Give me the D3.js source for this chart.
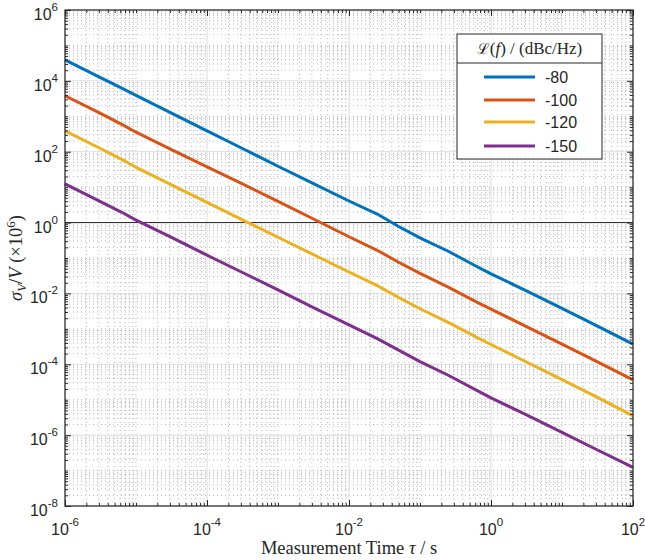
<!DOCTYPE html>
<html><head><meta charset="utf-8">
<script src="https://cdn.jsdelivr.net/npm/d3@7"></script>
<style>
html,body{margin:0;padding:0;background:#fff;}
svg{display:block;}
</style></head>
<body>
<svg id="chart" width="645" height="560"></svg>
<script>
// measurement time tau (s)
const tau = [1e-6, 3.16e-6, 6.3e-6, 1e-5, 3.16e-5, 1e-4, 3.16e-4, 1e-3, 3.16e-3, 1e-2, 2.5e-2, 5e-2, 1e-1, 2.5e-1, 6.3e-1, 1, 3.16, 10, 31.6, 100];
// sigma_V / V (x1e6) for each phase-noise level
const series80  = [3.9e4, 1.23e4, 6.2e3, 3.9e3, 1.23e3, 389, 123, 38.9, 12.6, 4.07, 1.74, 0.776, 0.37, 0.155, 0.0575, 0.0358, 0.0118, 3.8e-3, 1.2e-3, 3.72e-4];
const series100 = [3800, 1202, 589, 355, 115, 37.2, 12.3, 3.98, 1.26, 0.398, 0.165, 0.0759, 0.0368, 0.0151, 5.7e-3, 3.6e-3, 1.16e-3, 3.72e-4, 1.17e-4, 3.63e-5];
const series120 = [389, 123, 61, 36.3, 11.6, 3.72, 1.19, 0.385, 0.124, 0.0403, 0.0166, 7.67e-3, 3.7e-3, 1.53e-3, 5.75e-4, 3.62e-4, 1.16e-4, 3.67e-5, 1.16e-5, 3.5e-6];
const series150 = [12.3, 3.89, 1.95, 1.17, 0.38, 0.120, 0.0389, 0.0126, 3.98e-3, 1.29e-3, 5.3e-4, 2.51e-4, 1.19e-4, 4.9e-5, 1.84e-5, 1.13e-5, 3.72e-6, 1.2e-6, 3.8e-7, 1.23e-7];
const seriesNames = ["-80", "-100", "-120", "-150"];
const seriesColors = ["#0072BD", "#D95319", "#EDB120", "#7E2F8E"];
const xTickExps = [-6, -4, -2, 0, 2];
const yTickExps = [-8, -6, -4, -2, 0, 2, 4, 6];

const allSeries = [series80, series100, series120, series150];

const m = {left: 65, top: 10, right: 633, bottom: 506};
const svg = d3.select("#chart");

const x = d3.scaleLog().domain([1e-6, 1e2]).range([m.left, m.right]);
const y = d3.scaleLog().domain([1e-8, 1e6]).range([m.bottom, m.top]);

// minor tick values
const xMinor = [], yMinor = [];
for (let e = -6; e < 2; e++) for (let k = 1; k <= 9; k++) { const v = k * Math.pow(10, e); if (!(k === 1 && e % 2 === 0)) xMinor.push(v); }
for (let e = -8; e < 6; e++) for (let k = 1; k <= 9; k++) { const v = k * Math.pow(10, e); if (!(k === 1 && e % 2 === 0)) yMinor.push(v); }
const xMajor = xTickExps.map(e => Math.pow(10, e));
const yMajor = yTickExps.map(e => Math.pow(10, e));

const grid = svg.append("g");
// minor grid (dotted)
grid.selectAll(".xmg").data(xMinor).join("line")
  .attr("x1", d => x(d)).attr("x2", d => x(d)).attr("y1", m.top).attr("y2", m.bottom)
  .attr("stroke", "#9a9a9a").attr("stroke-width", 0.7).attr("stroke-dasharray", "1,3");
grid.selectAll(".ymg").data(yMinor).join("line")
  .attr("y1", d => y(d)).attr("y2", d => y(d)).attr("x1", m.left).attr("x2", m.right)
  .attr("stroke", "#9a9a9a").attr("stroke-width", 0.7).attr("stroke-dasharray", "1,3");
// major grid
grid.selectAll(".xMg").data(xMajor).join("line")
  .attr("x1", d => x(d)).attr("x2", d => x(d)).attr("y1", m.top).attr("y2", m.bottom)
  .attr("stroke", "#dcdcdc").attr("stroke-width", 1);
grid.selectAll(".yMg").data(yMajor).join("line")
  .attr("y1", d => y(d)).attr("y2", d => y(d)).attr("x1", m.left).attr("x2", m.right)
  .attr("stroke", "#dcdcdc").attr("stroke-width", 1);

// reference line at 1
svg.append("line").attr("x1", m.left).attr("x2", m.right).attr("y1", y(1)).attr("y2", y(1))
  .attr("stroke", "#262626").attr("stroke-width", 1);

// data lines
const line = d3.line().x((d, i) => x(tau[i])).y(d => y(d));
svg.append("g").selectAll("path").data(allSeries).join("path")
  .attr("d", d => line(d)).attr("fill", "none")
  .attr("stroke", (d, i) => seriesColors[i]).attr("stroke-width", 3)
  .attr("stroke-linejoin", "round");

// axes (ticks inward, box)
const axisColor = "#262626";
function tickFmtNone() { return ""; }
const axB = svg.append("g").attr("transform", `translate(0,${m.bottom})`)
  .call(d3.axisBottom(x).tickValues(xMajor).tickSize(-6).tickFormat(tickFmtNone));
const axBm = svg.append("g").attr("transform", `translate(0,${m.bottom})`)
  .call(d3.axisBottom(x).tickValues(xMinor).tickSize(-3).tickFormat(tickFmtNone));
const axT = svg.append("g").attr("transform", `translate(0,${m.top})`)
  .call(d3.axisTop(x).tickValues(xMajor).tickSize(-6).tickFormat(tickFmtNone));
const axTm = svg.append("g").attr("transform", `translate(0,${m.top})`)
  .call(d3.axisTop(x).tickValues(xMinor).tickSize(-3).tickFormat(tickFmtNone));
const axL = svg.append("g").attr("transform", `translate(${m.left},0)`)
  .call(d3.axisLeft(y).tickValues(yMajor).tickSize(-6).tickFormat(tickFmtNone));
const axLm = svg.append("g").attr("transform", `translate(${m.left},0)`)
  .call(d3.axisLeft(y).tickValues(yMinor).tickSize(-3).tickFormat(tickFmtNone));
const axR = svg.append("g").attr("transform", `translate(${m.right},0)`)
  .call(d3.axisRight(y).tickValues(yMajor).tickSize(-6).tickFormat(tickFmtNone));
const axRm = svg.append("g").attr("transform", `translate(${m.right},0)`)
  .call(d3.axisRight(y).tickValues(yMinor).tickSize(-3).tickFormat(tickFmtNone));
[axB, axBm, axT, axTm, axL, axLm, axR, axRm].forEach(a => {
  a.select(".domain").remove();
  a.selectAll("line").attr("stroke", axisColor).attr("stroke-width", 1);
});
svg.append("rect").attr("x", m.left).attr("y", m.top)
  .attr("width", m.right - m.left).attr("height", m.bottom - m.top)
  .attr("fill", "none").attr("stroke", axisColor).attr("stroke-width", 1.2);

// tick labels
const tickFont = "Liberation Sans, Arial, Helvetica, sans-serif";
const xl = svg.append("g").selectAll("text").data(xTickExps).join("text")
  .attr("x", d => x(Math.pow(10, d))).attr("y", 535)
  .attr("text-anchor", "middle").attr("font-family", tickFont).attr("font-size", 16).attr("fill", axisColor);
xl.append("tspan").text("10");
xl.append("tspan").attr("dy", -9).attr("font-size", 11.5).text(d => d < 0 ? "-" + (-d) : String(d));

const yl = svg.append("g").selectAll("text").data(yTickExps).join("text")
  .attr("x", 58).attr("y", d => y(Math.pow(10, d)) + 10)
  .attr("text-anchor", "end").attr("font-family", tickFont).attr("font-size", 16).attr("fill", axisColor);
yl.append("tspan").text("10");
yl.append("tspan").attr("dy", -9).attr("font-size", 11.5).text(d => d < 0 ? "-" + (-d) : String(d));

// axis titles
const serif = "Liberation Serif, DejaVu Serif, serif";
const xt = svg.append("text").attr("x", 349).attr("y", 554)
  .attr("text-anchor", "middle").attr("font-family", serif).attr("font-size", 18.5).attr("fill", axisColor);
xt.append("tspan").text("Measurement Time ");
xt.append("tspan").attr("font-style", "italic").text("τ");
xt.append("tspan").text(" / s");

const yt = svg.append("text").attr("transform", `translate(22,${(m.top + m.bottom) / 2}) rotate(-90)`)
  .attr("text-anchor", "middle").attr("font-family", serif).attr("font-size", 18.5).attr("fill", axisColor);
yt.append("tspan").attr("font-style", "italic").text("σ");
yt.append("tspan").attr("font-style", "italic").attr("font-size", 13).attr("dy", 4).text("V");
yt.append("tspan").attr("dy", -4).text("/");
yt.append("tspan").attr("font-style", "italic").text("V");
yt.append("tspan").text(" (×10");
yt.append("tspan").attr("font-size", 13).attr("dy", -7).text("6");
yt.append("tspan").attr("dy", 7).text(")");

// legend
const lg = svg.append("g");
const L = {x: 457, y: 34, w: 145, h: 125, sep: 63};
lg.append("rect").attr("x", L.x).attr("y", L.y).attr("width", L.w).attr("height", L.h)
  .attr("fill", "#fff").attr("stroke", axisColor).attr("stroke-width", 1);
lg.append("line").attr("x1", L.x).attr("x2", L.x + L.w).attr("y1", L.sep).attr("y2", L.sep)
  .attr("stroke", axisColor).attr("stroke-width", 1);
const lt = lg.append("text").attr("x", L.x + L.w / 2).attr("y", 54).attr("text-anchor", "middle")
  .attr("font-family", serif).attr("font-size", 17).attr("fill", axisColor);
lt.append("tspan").attr("font-family", "DejaVu Serif, serif").attr("font-size", 15).text("ℒ");
lt.append("tspan").text("(");
lt.append("tspan").attr("font-style", "italic").text("f");
lt.append("tspan").text(") / (dBc/Hz)");
const entryY = [77, 100, 122, 146];
const le = lg.selectAll(".le").data(seriesNames).join("g");
le.append("line").attr("x1", 484).attr("x2", 535).attr("y1", (d, i) => entryY[i]).attr("y2", (d, i) => entryY[i])
  .attr("stroke", (d, i) => seriesColors[i]).attr("stroke-width", 3);
le.append("text").attr("x", 545).attr("y", (d, i) => entryY[i] + 6)
  .attr("font-family", tickFont).attr("font-size", 16).attr("fill", axisColor).text(d => d);
</script>
</body></html>
